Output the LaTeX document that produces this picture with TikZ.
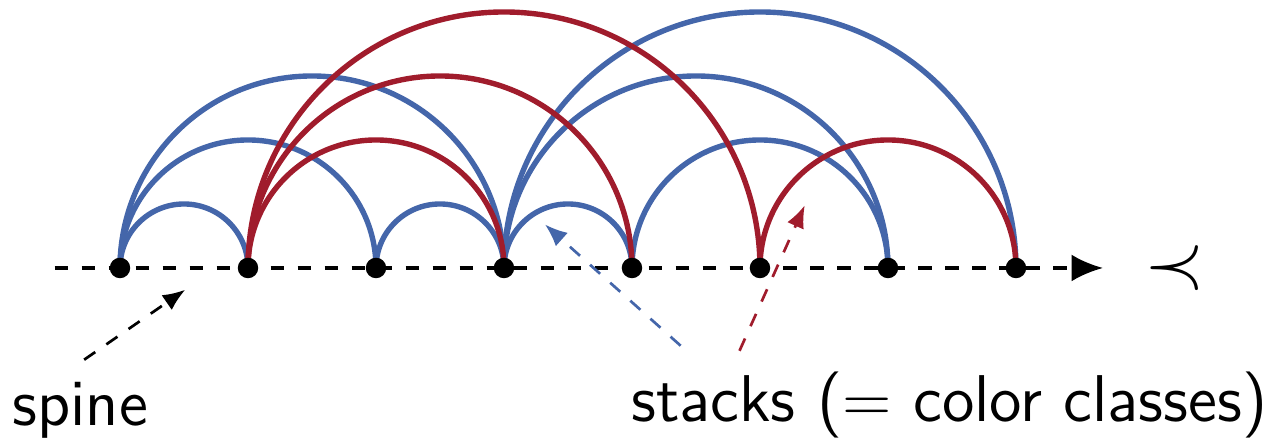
\documentclass[tikz,border=0pt]{standalone}
\usepackage{amsmath,amssymb}
\usepackage{tikz}
\usetikzlibrary{arrows.meta}
\definecolor{stackblue}{RGB}{68,102,170}
\definecolor{stackred}{RGB}{160,28,44}

\begin{document}
\begin{tikzpicture}[x=1cm,y=1cm,
    bluearc/.style={stackblue,line width=1.2pt},
    redarc/.style={stackred,line width=1.2pt},
    vertex/.style={circle,fill=black,inner sep=0pt,minimum size=0.16cm},
    lbl/.style={font=\sffamily\fontsize{14.7}{17}\selectfont}]
  \useasboundingbox (-0.9375,-1.3516) rectangle (8.930,2.0938);
  \draw[dashed,line width=0.8pt,-{Latex[length=7pt,width=6pt]}] (-0.51,0) -- (7.68,0); % the spine
  \node (order) at (8.24,0) {\fontsize{17}{19}\selectfont$\prec$};
  % blue stack
  \draw[bluearc] (0,0) arc (180:0:0.5);
  \draw[bluearc] (0,0) arc (180:0:1);
  \draw[bluearc] (0,0) arc (180:0:1.5);
  \draw[bluearc] (2,0) arc (180:0:0.5);
  \draw[bluearc] (3,0) arc (180:0:0.5);
  \draw[bluearc] (3,0) arc (180:0:1.5);
  \draw[bluearc] (3,0) arc (180:0:2);
  \draw[bluearc] (4,0) arc (180:0:1);
  % red stack
  \draw[redarc] (1,0) arc (180:0:1);
  \draw[redarc] (1,0) arc (180:0:1.5);
  \draw[redarc] (1,0) arc (180:0:2);
  \draw[redarc] (5,0) arc (180:0:1);
  \foreach \i in {0,...,7} \node[vertex] (v\i) at (\i,0) {};
  % labels
  \node[lbl] (spine) at (-0.31,-1.11) {spine};
  \node[lbl] (stacks) at (6.48,-1.07) {stacks ($=$ color classes)};
  \coordinate (spinetip) at (0.51,-0.17);
  \coordinate (bluetip) at (3.32,0.34);
  \coordinate (redtip) at (5.35,0.49);
  \draw[dashed,line width=0.6pt,-{Latex[length=5pt,width=4pt]}] ([xshift=0.03cm,yshift=0.05cm]spine.north) -- (spinetip);
  \draw[stackblue,dashed,line width=0.6pt,-{Latex[length=5pt,width=4pt]}] ([xshift=-2.1cm,yshift=0.08cm]stacks.north) -- (bluetip);
  \draw[stackred,dashed,line width=0.6pt,-{Latex[length=5pt,width=4pt]}] ([xshift=-1.64cm,yshift=0.04cm]stacks.north) -- (redtip);
\end{tikzpicture}
\end{document}
